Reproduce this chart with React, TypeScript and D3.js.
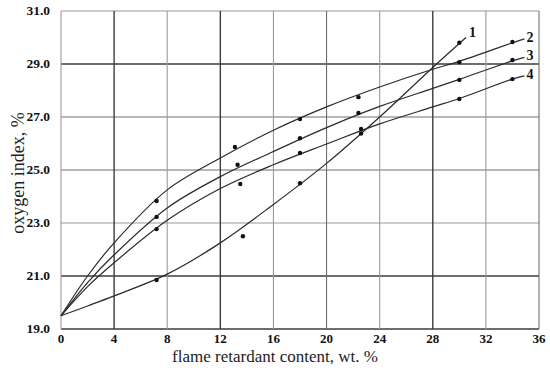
import React, { useRef, useEffect } from 'react';
import * as d3 from 'd3';

// fitted curves
const line1X = [0, 2, 4, 8, 12, 16, 20, 24, 28, 30.5];
const line1Y = [19.5, 19.87, 20.25, 21.07, 22.25, 23.7, 25.25, 27.0, 28.87, 30.0];
const line2X = [0, 2, 4, 8, 12, 16, 20, 24, 28, 30, 34, 34.9];
const line2Y = [19.5, 21.0, 22.25, 24.25, 25.45, 26.5, 27.38, 28.13, 28.8, 29.1, 29.8, 29.95];
const line3X = [0, 2, 4, 8, 12, 16, 20, 24, 28, 30, 34, 34.9];
const line3Y = [19.5, 20.75, 21.8, 23.57, 24.75, 25.7, 26.6, 27.4, 28.08, 28.42, 29.12, 29.25];
const line4X = [0, 2, 4, 8, 12, 16, 20, 24, 28, 30, 34, 34.9];
const line4Y = [19.5, 20.6, 21.5, 23.1, 24.3, 25.2, 25.98, 26.74, 27.38, 27.7, 28.43, 28.55];

// measured points
const pts1X = [7.2, 13.7, 18.0, 22.6, 30.0];
const pts1Y = [20.85, 22.5, 24.5, 26.38, 29.8];
const pts2X = [7.2, 13.1, 18.0, 22.4, 30.0, 34.0];
const pts2Y = [23.83, 25.87, 26.92, 27.75, 29.07, 29.83];
const pts3X = [7.2, 13.3, 18.0, 22.4, 30.0, 34.0];
const pts3Y = [23.23, 25.2, 26.2, 27.15, 28.4, 29.15];
const pts4X = [7.2, 13.5, 18.0, 22.6, 30.0, 34.0];
const pts4Y = [22.77, 24.47, 25.64, 26.55, 27.68, 28.43];

const seriesLabels = ['1', '2', '3', '4'];
const xTicks = [0, 4, 8, 12, 16, 20, 24, 28, 32, 36];
const yTicks = [19, 21, 23, 25, 27, 29, 31];

const zip = (xs: number[], ys: number[]) => xs.map((x, i) => ({ x, y: ys[i] }));

const App = () => {
  const svgRef = useRef<SVGSVGElement>(null);

  useEffect(() => {
    const width = 550;
    const height = 372;
    const margin = { top: 11, right: 11, bottom: 43, left: 61 };
    const innerW = width - margin.left - margin.right;
    const innerH = height - margin.top - margin.bottom;

    const svg = d3.select(svgRef.current);
    svg.selectAll('*').remove();
    svg.attr('width', width).attr('height', height).style('background', '#fff');

    const x = d3.scaleLinear().domain([0, 36]).range([0, innerW]);
    const y = d3.scaleLinear().domain([19, 31]).range([innerH, 0]);

    const g = svg.append('g').attr('transform', `translate(${margin.left},${margin.top})`);

    // grid - some lines came out darker in the original
    const darkX = new Set([4, 12, 28]);
    const midX = new Set([20, 36]);
    const darkY = new Set([19, 21, 29]);
    const midY = new Set([25, 27]);

    g.append('g').selectAll('line').data(yTicks).join('line')
      .attr('x1', 0).attr('x2', innerW)
      .attr('y1', d => y(d)).attr('y2', d => y(d))
      .attr('stroke', d => (darkY.has(d) ? '#3c3c3c' : midY.has(d) ? '#6e6e6e' : '#9a9a9a'))
      .attr('stroke-width', d => (darkY.has(d) ? 1.4 : 1.1));

    g.append('g').selectAll('line').data(xTicks).join('line')
      .attr('y1', 0).attr('y2', innerH)
      .attr('x1', d => x(d)).attr('x2', d => x(d))
      .attr('stroke', d => (darkX.has(d) ? '#3c3c3c' : midX.has(d) ? '#6e6e6e' : '#9a9a9a'))
      .attr('stroke-width', d => (darkX.has(d) ? 1.4 : 1.1));

    // tick labels
    const serif = '"Liberation Serif", "Times New Roman", serif';
    g.append('g').selectAll('text').data(xTicks).join('text')
      .attr('x', d => x(d)).attr('y', innerH + 14)
      .attr('text-anchor', 'middle')
      .attr('font-family', serif).attr('font-weight', 'bold').attr('font-size', 13)
      .attr('fill', '#111')
      .text(d => d);

    g.append('g').selectAll('text').data(yTicks).join('text')
      .attr('x', -11).attr('y', d => y(d) + 4)
      .attr('text-anchor', 'end')
      .attr('font-family', serif).attr('font-weight', 'bold').attr('font-size', 13.5)
      .attr('fill', '#111')
      .text(d => d.toFixed(1));

    // axis titles
    svg.append('text')
      .attr('x', 275).attr('y', 362)
      .attr('text-anchor', 'middle')
      .attr('font-family', serif).attr('font-size', 17)
      .attr('fill', '#222')
      .text('flame retardant content, wt. %');

    svg.append('text')
      .attr('transform', 'translate(24,173) rotate(-90)')
      .attr('text-anchor', 'middle')
      .attr('font-family', serif).attr('font-size', 18)
      .attr('fill', '#222')
      .text('oxygen index, %');

    const lines = [zip(line1X, line1Y), zip(line2X, line2Y), zip(line3X, line3Y), zip(line4X, line4Y)];
    const points = [zip(pts1X, pts1Y), zip(pts2X, pts2Y), zip(pts3X, pts3Y), zip(pts4X, pts4Y)];

    const lineGen = d3.line<{ x: number; y: number }>()
      .x(d => x(d.x)).y(d => y(d.y))
      .curve(d3.curveCatmullRom);

    g.append('g').selectAll('path').data(lines).join('path')
      .attr('fill', 'none')
      .attr('stroke', '#2a2a2a')
      .attr('stroke-width', 1.2)
      .attr('d', d => lineGen(d));

    g.append('g').selectAll('circle').data(points.flat()).join('circle')
      .attr('cx', d => x(d.x)).attr('cy', d => y(d.y))
      .attr('r', 2.2)
      .attr('fill', '#111');

    // curve numbers at the line ends
    g.append('g').selectAll('text').data(lines).join('text')
      .attr('x', (d, i) => x(d[d.length - 1].x) + (i === 0 ? 3 : 2))
      .attr('y', (d, i) => y(d[d.length - 1].y) + (i === 0 ? -1 : 3))
      .attr('font-family', serif).attr('font-weight', 'bold').attr('font-size', 14)
      .attr('fill', '#111')
      .text((d, i) => seriesLabels[i]);
  }, []);

  return (
    <div style={{ position: 'fixed', left: 0, top: 0 }}>
      <svg ref={svgRef}></svg>
    </div>
  );
};

export default App;
